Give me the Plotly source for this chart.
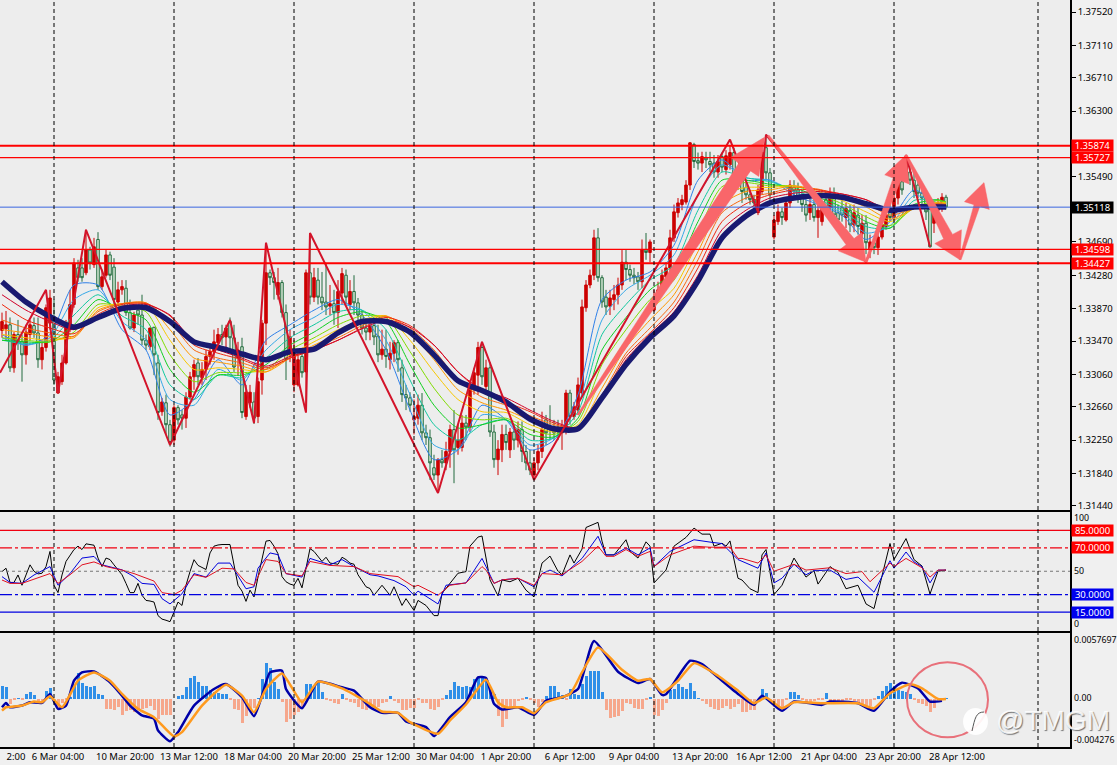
import numpy as np
import plotly.graph_objects as go
from plotly.subplots import make_subplots

# GBP/USD style 4h chart, prices kept in pips (1 pip = 0.0001)
opens = [
    13360, 13362, 13367, 13314, 13355, 13346, 13330, 13355, 13366, 13357,
    13324, 13339, 13369, 13377, 13283, 13297, 13320, 13361, 13392, 13437,
    13437, 13431, 13459, 13441, 13472, 13414, 13428, 13453, 13438, 13395,
    13410, 13412, 13382, 13363, 13385, 13379, 13348, 13340, 13364, 13320,
    13260, 13271, 13244, 13225, 13265, 13256, 13252, 13278, 13303, 13320,
    13302, 13312, 13328, 13334, 13345, 13355, 13352, 13371, 13351, 13326,
    13340, 13254, 13271, 13272, 13254, 13299, 13369, 13431, 13425, 13404,
    13419, 13382, 13330, 13293, 13293, 13328, 13309, 13431, 13401, 13422,
    13401, 13395, 13390, 13393, 13382, 13406, 13428, 13392, 13408, 13394,
    13379, 13363, 13358, 13366, 13353, 13330, 13337, 13324, 13332, 13345,
    13314, 13281, 13277, 13250, 13252, 13268, 13234, 13228, 13191, 13182,
    13201, 13197, 13211, 13238, 13216, 13216, 13246, 13241, 13291, 13305,
    13339, 13291, 13314, 13235, 13201, 13213, 13232, 13213, 13235, 13225,
    13238, 13211, 13197, 13182, 13197, 13211, 13250, 13241, 13240, 13241,
    13234, 13241, 13283, 13254, 13262, 13283, 13388, 13416, 13428, 13474,
    13425, 13401, 13390, 13398, 13404, 13416, 13444, 13435, 13428, 13426,
    13420, 13459, 13456, 13385, 13401, 13410, 13426, 13437, 13474, 13505,
    13515, 13518, 13539, 13589, 13569, 13566, 13573, 13568, 13566, 13555,
    13574, 13558, 13564, 13579, 13552, 13545, 13536, 13527, 13521, 13505,
    13531, 13585, 13554, 13475, 13494, 13506, 13496, 13517, 13536, 13533,
    13524, 13515, 13505, 13515, 13499, 13494, 13521, 13511, 13527, 13505,
    13511, 13499, 13508, 13490, 13502, 13479, 13492, 13459, 13468, 13462,
    13475, 13488, 13505, 13499, 13523, 13543, 13554, 13555, 13545, 13539,
    13529, 13523, 13517, 13492, 13508, 13512, 13524,
]
highs = [
    13382, 13384, 13376, 13358, 13373, 13355, 13367, 13373, 13376, 13376,
    13348, 13392, 13410, 13398, 13309, 13330, 13373, 13410, 13449, 13447,
    13449, 13484, 13463, 13474, 13481, 13435, 13459, 13457, 13449, 13420,
    13422, 13422, 13398, 13383, 13388, 13404, 13355, 13363, 13363, 13330,
    13277, 13281, 13250, 13268, 13268, 13262, 13284, 13309, 13324, 13326,
    13321, 13336, 13342, 13361, 13363, 13367, 13367, 13376, 13367, 13346,
    13351, 13293, 13293, 13284, 13302, 13373, 13468, 13435, 13432, 13437,
    13422, 13392, 13361, 13348, 13336, 13336, 13435, 13480, 13437, 13437,
    13432, 13443, 13416, 13410, 13422, 13437, 13435, 13422, 13428, 13400,
    13385, 13371, 13371, 13376, 13367, 13361, 13361, 13346, 13348, 13348,
    13324, 13293, 13284, 13275, 13281, 13283, 13244, 13238, 13207, 13203,
    13213, 13223, 13244, 13262, 13244, 13256, 13256, 13299, 13314, 13346,
    13346, 13324, 13321, 13244, 13225, 13244, 13244, 13240, 13244, 13248,
    13248, 13219, 13213, 13203, 13219, 13260, 13256, 13268, 13250, 13250,
    13250, 13287, 13287, 13272, 13302, 13398, 13422, 13435, 13484, 13486,
    13428, 13410, 13410, 13416, 13425, 13459, 13459, 13441, 13437, 13432,
    13472, 13480, 13472, 13410, 13420, 13435, 13444, 13484, 13515, 13523,
    13527, 13545, 13592, 13591, 13579, 13580, 13580, 13580, 13576, 13576,
    13579, 13582, 13588, 13585, 13558, 13552, 13542, 13533, 13527, 13539,
    13582, 13601, 13560, 13502, 13515, 13511, 13523, 13545, 13545, 13542,
    13533, 13521, 13523, 13527, 13515, 13517, 13531, 13536, 13536, 13515,
    13521, 13517, 13515, 13515, 13511, 13502, 13502, 13478, 13474, 13484,
    13496, 13511, 13515, 13531, 13548, 13555, 13576, 13564, 13555, 13545,
    13536, 13531, 13523, 13515, 13523, 13529, 13527,
]
lows = [
    13351, 13348, 13309, 13308, 13336, 13297, 13318, 13348, 13351, 13314,
    13312, 13334, 13361, 13293, 13282, 13293, 13318, 13358, 13388, 13420,
    13420, 13428, 13435, 13437, 13410, 13410, 13425, 13422, 13392, 13392,
    13404, 13378, 13361, 13358, 13367, 13342, 13336, 13336, 13305, 13250,
    13255, 13232, 13217, 13219, 13244, 13238, 13240, 13275, 13287, 13293,
    13293, 13299, 13318, 13324, 13336, 13342, 13336, 13334, 13309, 13305,
    13252, 13250, 13265, 13245, 13246, 13281, 13342, 13416, 13398, 13398,
    13376, 13299, 13321, 13284, 13291, 13302, 13259, 13392, 13395, 13392,
    13385, 13379, 13379, 13367, 13363, 13392, 13392, 13385, 13379, 13367,
    13355, 13348, 13348, 13342, 13321, 13324, 13314, 13312, 13321, 13309,
    13272, 13262, 13260, 13232, 13244, 13225, 13219, 13176, 13176, 13160,
    13191, 13188, 13191, 13172, 13207, 13211, 13225, 13235, 13281, 13281,
    13293, 13281, 13229, 13191, 13182, 13198, 13213, 13203, 13213, 13216,
    13198, 13188, 13182, 13176, 13188, 13203, 13219, 13225, 13225, 13225,
    13213, 13232, 13244, 13250, 13256, 13278, 13383, 13412, 13422, 13420,
    13388, 13379, 13379, 13385, 13392, 13410, 13422, 13420, 13417, 13410,
    13412, 13447, 13444, 13383, 13398, 13404, 13422, 13432, 13469, 13499,
    13508, 13515, 13533, 13560, 13558, 13555, 13560, 13555, 13548, 13548,
    13555, 13552, 13558, 13543, 13533, 13517, 13521, 13515, 13511, 13502,
    13527, 13545, 13515, 13472, 13490, 13490, 13494, 13511, 13523, 13517,
    13506, 13494, 13496, 13494, 13474, 13489, 13502, 13506, 13494, 13486,
    13494, 13486, 13481, 13481, 13478, 13474, 13454, 13449, 13454, 13453,
    13472, 13484, 13494, 13494, 13515, 13527, 13548, 13539, 13523, 13523,
    13515, 13496, 13462, 13480, 13502, 13506, 13509,
]
closes = [
    13371, 13367, 13314, 13355, 13345, 13330, 13358, 13367, 13357, 13324,
    13339, 13388, 13400, 13299, 13303, 13320, 13364, 13392, 13443, 13425,
    13425, 13459, 13443, 13463, 13414, 13426, 13453, 13428, 13398, 13410,
    13414, 13382, 13363, 13379, 13379, 13348, 13342, 13363, 13330, 13259,
    13272, 13244, 13222, 13265, 13250, 13252, 13278, 13303, 13318, 13303,
    13312, 13328, 13334, 13346, 13355, 13351, 13363, 13351, 13315, 13336,
    13259, 13284, 13284, 13252, 13297, 13369, 13431, 13425, 13419, 13419,
    13382, 13324, 13352, 13336, 13324, 13308, 13431, 13401, 13425, 13401,
    13394, 13389, 13393, 13382, 13408, 13430, 13401, 13408, 13394, 13379,
    13363, 13358, 13366, 13352, 13330, 13337, 13328, 13332, 13345, 13324,
    13281, 13277, 13268, 13254, 13268, 13234, 13228, 13197, 13182, 13201,
    13197, 13211, 13238, 13213, 13225, 13246, 13241, 13291, 13308, 13339,
    13303, 13314, 13235, 13201, 13214, 13232, 13222, 13235, 13225, 13238,
    13211, 13197, 13188, 13197, 13211, 13238, 13234, 13238, 13234, 13235,
    13240, 13283, 13254, 13266, 13293, 13389, 13416, 13428, 13474, 13425,
    13395, 13389, 13400, 13404, 13416, 13444, 13435, 13428, 13425, 13420,
    13459, 13456, 13469, 13401, 13410, 13428, 13437, 13474, 13506, 13517,
    13521, 13539, 13591, 13568, 13566, 13574, 13570, 13564, 13555, 13568,
    13561, 13575, 13579, 13552, 13545, 13531, 13527, 13521, 13517, 13533,
    13579, 13554, 13527, 13496, 13506, 13499, 13517, 13539, 13531, 13523,
    13515, 13502, 13515, 13499, 13508, 13511, 13511, 13527, 13502, 13496,
    13502, 13510, 13490, 13505, 13488, 13492, 13468, 13469, 13462, 13475,
    13490, 13502, 13499, 13523, 13542, 13533, 13574, 13545, 13531, 13529,
    13523, 13506, 13463, 13505, 13517, 13524, 13512,
]

# moving average ribbon, read every 6 bars
ribbon_bars = list(range(0, 235, 6)) + [236]
ribbon_colors = ["#2f80e8", "#35a8e8", "#12c8a0", "#10d020", "#80dc00",
                 "#f8c800", "#ff9800", "#f86810", "#f02810", "#d00028"]
ma1 = [13355, 13342, 13355, 13416, 13416, 13361, 13336, 13256, 13275, 13324, 13293, 13348, 13367, 13385, 13398, 13379, 13336, 13262, 13201, 13213, 13268, 13250, 13213, 13225, 13281, 13398, 13422, 13432, 13465, 13545, 13570, 13545, 13545, 13527, 13515, 13502, 13472, 13494, 13533, 13515, 13515]
ma2 = [13351, 13342, 13351, 13398, 13410, 13371, 13348, 13275, 13268, 13312, 13299, 13336, 13361, 13376, 13392, 13385, 13348, 13281, 13219, 13213, 13256, 13250, 13219, 13228, 13268, 13373, 13410, 13428, 13453, 13527, 13564, 13548, 13545, 13531, 13517, 13505, 13480, 13489, 13526, 13517, 13516]
ma3 = [13348, 13344, 13348, 13379, 13404, 13378, 13361, 13293, 13275, 13305, 13302, 13326, 13351, 13367, 13383, 13385, 13361, 13299, 13244, 13225, 13244, 13250, 13225, 13228, 13260, 13355, 13392, 13422, 13441, 13508, 13555, 13548, 13543, 13533, 13521, 13508, 13488, 13486, 13520, 13520, 13517]
ma4 = [13348, 13346, 13346, 13367, 13398, 13385, 13373, 13312, 13284, 13305, 13305, 13318, 13342, 13358, 13376, 13383, 13371, 13318, 13268, 13240, 13244, 13250, 13232, 13229, 13252, 13336, 13376, 13410, 13432, 13494, 13545, 13545, 13540, 13536, 13524, 13512, 13494, 13486, 13515, 13521, 13518]
ma5 = [13351, 13348, 13346, 13358, 13392, 13390, 13383, 13330, 13297, 13308, 13308, 13312, 13336, 13351, 13367, 13378, 13376, 13334, 13289, 13256, 13250, 13252, 13238, 13232, 13248, 13318, 13361, 13398, 13422, 13481, 13537, 13542, 13538, 13538, 13528, 13516, 13500, 13489, 13511, 13520, 13518]
ma6 = [13355, 13351, 13348, 13353, 13388, 13393, 13392, 13348, 13312, 13314, 13312, 13309, 13330, 13346, 13361, 13373, 13378, 13348, 13309, 13275, 13260, 13259, 13244, 13235, 13244, 13302, 13348, 13385, 13412, 13469, 13527, 13536, 13536, 13538, 13531, 13520, 13506, 13494, 13510, 13518, 13517]
ma7 = [13361, 13357, 13352, 13351, 13385, 13393, 13394, 13361, 13326, 13321, 13316, 13309, 13326, 13342, 13355, 13369, 13378, 13358, 13324, 13287, 13271, 13262, 13250, 13240, 13241, 13289, 13339, 13373, 13404, 13457, 13515, 13531, 13533, 13538, 13533, 13523, 13512, 13497, 13510, 13517, 13516]
ma8 = [13373, 13363, 13357, 13353, 13383, 13393, 13394, 13371, 13336, 13326, 13320, 13312, 13326, 13339, 13351, 13366, 13377, 13363, 13336, 13299, 13278, 13268, 13255, 13244, 13240, 13281, 13332, 13363, 13395, 13447, 13505, 13523, 13529, 13536, 13534, 13526, 13517, 13502, 13510, 13516, 13515]
ma9 = [13392, 13373, 13363, 13356, 13380, 13392, 13393, 13378, 13342, 13332, 13324, 13314, 13326, 13336, 13348, 13363, 13376, 13366, 13342, 13309, 13284, 13272, 13260, 13246, 13240, 13277, 13328, 13357, 13388, 13437, 13494, 13516, 13527, 13533, 13533, 13528, 13521, 13506, 13510, 13515, 13513]
ma10 = [13404, 13385, 13371, 13361, 13378, 13390, 13392, 13379, 13346, 13336, 13326, 13316, 13328, 13336, 13348, 13362, 13373, 13364, 13342, 13309, 13287, 13277, 13262, 13248, 13240, 13275, 13324, 13355, 13383, 13428, 13484, 13508, 13523, 13529, 13531, 13528, 13521, 13508, 13510, 13513, 13513]
ma_slow = [13420, 13395, 13377, 13364, 13376, 13387, 13388, 13371, 13346, 13339, 13331, 13324, 13334, 13337, 13357, 13371, 13371, 13358, 13330, 13298, 13286, 13272, 13251, 13239, 13239, 13277, 13318, 13351, 13378, 13421, 13474, 13501, 13517, 13523, 13526, 13524, 13516, 13508, 13512, 13512, 13512]
ribbon = [ma1, ma2, ma3, ma4, ma5, ma6, ma7, ma8, ma9, ma10]

# zigzag pivots
zig_bars = [-0.5, 11, 14, 21, 42, 57, 63, 66, 76, 77, 109, 120, 133, 182, 189, 191, 216, 226, 232]
zig_pips = [13308, 13410, 13283, 13484, 13219, 13373, 13246, 13468, 13259, 13480, 13160, 13346, 13176, 13595, 13506, 13601, 13444, 13576, 13463]

levels = [1.35874, 1.35727, 1.34598, 1.34427]
level_widths = [2, 1.2, 1.2, 2]
last_price = 1.35118

price_ticks = [1.37520, 1.37110, 1.36710, 1.36300, 1.35490, 1.34690, 1.34280,
               1.33870, 1.33470, 1.33060, 1.32660, 1.32250, 1.31840, 1.31440]

grid_bars = [13, 43, 73, 103, 133, 163, 193, 223, 259]
date_bars = [3.5, 14, 30.75, 46.75, 62.75, 78.75, 94.75, 110.75, 126, 142, 158, 174.5, 190.5, 206.75, 222.75, 238.75]
date_labels = ["2:00", "6 Mar 04:00", "10 Mar 20:00", "13 Mar 12:00", "18 Mar 04:00",
               "20 Mar 20:00", "25 Mar 12:00", "30 Mar 04:00", "1 Apr 20:00", "6 Apr 12:00",
               "9 Apr 04:00", "13 Apr 20:00", "16 Apr 12:00", "21 Apr 04:00", "23 Apr 20:00", "28 Apr 12:00"]

# oscillator lines
k_bars = [0, 1, 2, 3, 4, 5, 6, 7, 8, 9, 10, 11, 12, 13, 14, 15, 16, 18, 19, 20, 21, 22, 23, 24, 25, 26, 27, 28, 29, 30, 31, 32, 33, 34, 35, 36, 37, 38, 39, 40, 41, 42, 43, 44, 45, 46, 47, 48, 49, 50, 51, 52, 53, 54, 55, 57, 58, 59, 60, 61, 62, 63, 64, 65, 66, 67, 68, 69, 70, 71, 72, 73, 74, 75, 76, 77, 78, 79, 80, 81, 82, 83, 84, 85, 86, 87, 88, 89, 90, 91, 92,
          93, 95, 97, 98, 100, 101, 103, 104, 106, 108, 109, 110, 112, 114, 116, 117, 119, 120, 122, 124, 125, 127, 129, 131, 133, 135, 137, 139, 140, 142, 143, 145, 146, 149, 150, 151, 153, 156, 157, 159, 161, 162, 163, 166, 168, 171, 173, 175, 177, 178, 180, 181, 182, 183, 184,
          185, 187, 189, 190, 191, 192, 193, 195, 198, 201, 203, 204, 207, 209, 211, 214, 216, 218, 220, 222, 223, 226, 228, 230, 232, 234, 236]
k_line = [49.7, 52.6, 40.4, 40.4, 46.8, 38, 46.8, 55.5, 50, 47.7, 48.3, 54, 67, 38, 31.7, 46.8, 58.4, 68.6, 71.5, 68.6, 73.5, 73, 72.3, 61.3, 54, 61.3, 60, 55.5, 51.2, 47, 39.6, 31.7, 31.7, 39.6, 29.4, 25, 24.5, 23.6, 12, 9, 8, 6.8, 15, 23.6, 20.7, 38, 49.7, 59.9, 55, 53, 51.5, 65.7, 71.5, 72.5, 72.9, 72.9, 55.5, 38, 33, 24.2, 33.8, 28, 45, 60, 75.8, 76.4, 71.5, 65, 45.4, 41, 39, 38, 43.9, 35.8, 52, 69.4, 67, 63, 58.4, 62, 57, 56.5, 56, 62, 60, 57, 56, 47, 42, 36.7, 35.2,
          29.4, 38, 29.4, 36.7, 20.7, 26.5, 16.4, 25, 20.7, 12, 12, 31, 39.6, 48.3, 49.7, 71.5, 79.3, 80.2, 42.6, 28.9, 42.6, 41, 44, 33.8, 28, 57, 63, 50, 47, 64, 57, 69, 87.5, 91.9, 75.8, 64, 64, 77, 67, 61.3, 75.2, 71.5, 40, 51, 71.5, 79, 87, 81.8, 81.8, 71.5, 74, 71.5, 76, 61.3, 44,
          42.5, 35, 31.7, 64, 68.6, 50, 30, 38, 61.3, 45, 50.5, 39, 54, 49, 35, 38, 22, 18, 47, 73.8, 60, 78, 60, 54.5, 30.5, 50, 51]
d_bars = [0, 2, 5, 8, 12, 14, 17, 20, 23, 25, 30, 33, 35, 38, 40, 42, 45, 48, 51, 54, 57, 61, 63, 64, 67, 69, 71, 75, 77, 82, 85, 88, 92,
          94, 98, 101, 103, 104, 109, 111, 116, 120, 121, 123, 125, 129, 133, 135, 137, 140, 145, 149, 151, 153, 156, 159, 162, 163, 167, 173, 177, 180, 184,
          189, 191, 193, 195, 198, 201, 203, 207, 211, 214, 218, 222, 223, 226, 228, 230, 232, 234, 236]
d_line = [45.4, 40.4, 39.6, 46.8, 54, 38, 48, 61.3, 62.7, 55.5, 51.2, 45.4, 39.6, 38.7, 26.5, 22, 30.7, 48, 45, 57, 57, 35, 36.7, 52.6, 65.7, 64.2, 48, 45, 61, 55.5, 60, 54, 47,
          46, 42, 36.7, 29.4, 33, 22, 38, 40, 61, 54, 39.6, 42.6, 44, 36.7, 48, 51, 46, 61, 80, 64, 64, 70, 64, 70, 54, 67, 77, 75, 73.7, 60,
          52.6, 65.7, 40, 44, 56, 47, 50.5, 51, 43, 45, 32, 59, 52.6, 66.5, 58, 54, 40, 51, 51]
s_bars = [0, 2, 5, 9, 12, 14, 17, 20, 23, 26, 30, 33, 38, 40, 43, 45, 48, 51, 55, 58, 61, 63, 66, 69, 71, 75, 77, 82, 88, 92,
          95, 99, 103, 104, 109, 112, 116, 120, 121, 123, 125, 129, 133, 135, 140, 145, 149, 151, 153, 156, 159, 162, 163, 167, 173, 177, 182, 184,
          185, 189, 191, 193, 198, 201, 207, 211, 215, 217, 222, 223, 226, 230, 232, 234, 236]
s_line = [42.5, 39.6, 39.6, 44.5, 48, 39.6, 47, 55.5, 58, 54, 51, 48, 41.6, 31.7, 30, 33.8, 47, 44.8, 52.6, 52, 40.4, 38, 60, 58.4, 48, 46, 58.4, 55, 54, 48,
          47, 45.4, 36.7, 38, 29.4, 38, 40, 54, 51, 39.6, 42.6, 44, 38, 48, 47, 58.4, 71.5, 62.8, 62.8, 68.6, 62.8, 67, 54, 64, 71.5, 70.6, 70.6, 61,
          61, 57, 64, 50, 56, 51, 53, 48, 49.7, 41, 57, 54, 61, 53, 45, 51, 51]
rsi_levels = [85, 70, 50, 30, 15]
rsi_colors = ["#f00010", "#f00010", "#777777", "#0000e0", "#0000e0"]
rsi_dashes = ["solid", "12px,3px,3px,3px", "3px,3px", "12px,3px,3px,3px", "solid"]

# macd, in units of 0.0001
macd_bars = [0, 1, 2, 5, 7, 10, 12, 14, 16, 18, 20, 23, 27, 30, 32, 35, 38, 39, 42, 44, 48, 53, 56, 60, 63, 65, 67, 70, 71, 75, 79, 85, 88, 92,
             95, 99, 101, 106, 108, 112, 116, 119, 121, 123, 125, 129, 133, 136, 140, 144, 148, 154, 159, 162, 165, 166, 172, 175, 179, 184,
             188, 190, 195, 198, 205, 207, 214, 218, 222, 225, 229, 232, 235]
macd_line = [-7.9, -4.1, -7.9, -6.4, -3.5, -4.1, 3.8, -9.3, -6.4, 15.4, 22.7, 23.6, 14, 2.3, -6.4, -15.1, -18, -28.2, -37.8, -29.7, -6.4, 8.1, 12.5, 0.9, -15.7, 2.3, 22.7, 24.2, 8.1, -8.7, 14.6, 9.6, 6.7, -7.9,
             -12.8, -12.8, -20.4, -25.3, -33.2, -16.6, -3.5, 18.3, 17.8, -4.9, -9.9, -7.9, -14.6, -2, 0.9, 8.1, 50.3, 23.3, 13.4, 16.9, 2.9, 3.5, 32.9, 30, 18.3, 3.8,
             -5.8, 2.3, -11, -2.9, -5.8, -2.9, -4.4, -11, 5.8, 13.7, 8.7, -2.9, -2.3]
signal_bars = [0, 1, 3, 5, 8, 10, 12, 15, 19, 23, 27, 30, 34, 38, 43, 45, 50, 56, 60, 63, 66, 70, 75, 79, 85, 92,
               95, 99, 102, 109, 112, 116, 121, 124, 126, 130, 133, 136, 142, 145, 149, 155, 159, 162, 165, 169, 173, 179, 184,
               188, 191, 195, 198, 205, 214, 218, 222, 227, 230, 234, 236]
signal_line = [-10.8, -7.9, -7.3, -6.4, -2.9, -3.5, 1.7, -7.9, 15.4, 22.7, 15.4, 3.8, -9.3, -16.6, -33.5, -29.7, -6.4, 11.9, 2.3, -12.2, 8.1, 21.8, -3.5, 14.6, 8.7, -4.9,
               -11.6, -12.8, -21, -31.1, -19.5, -5.5, 16.3, -3.5, -7.9, -7.9, -13.1, -3.5, 3.8, 22.7, 44.5, 25, 15.4, 16.9, 5.2, 15.4, 30.8, 19.8, 6.7,
               -4.4, 0.6, -8.7, -3.5, -4.4, -4.4, -8.7, 4.4, 12.2, 8.7, -0.6, -0.6]
macd_hist = [
    11, 10, -5, -1, 0.3, -1.5, 4, 5.5, 3, -2,
    -3, 7, 9.5, -4, -8, -4, -1, 1.5, 12, 23,
    14, 11, 10, 11, 4, 3, -9, -9, -10, -7,
    -14, -11, -10, -12, -10, -9, -8, -6, -10, -18,
    -14, -14, -14, 0, 2, 3.5, 10, 18, 20, 15,
    11, 11, 8, 6, 5, 4, 4, -1, -9, -10,
    -21, -15, -11, -8, 0.5, 17, 31, 27, 15, 8.5,
    -3, -20, -18, -14, -12, -7, 13, 13, 10, 14,
    6, -1, -2, -4, -5, 4, -1, -3, -4, -7,
    -9, -10, -7, -8, -7, -4, -3, 2.5, -2, -4,
    -10, -10, -8, -8, -1, -4, -4, -9, -10, -7,
    -1, 3, 8, 15, 11, 10, 11, 10, 17, 18,
    19, 17, 9, 4, -15, -25, -18, -9, -6, -2,
    -1, 1, -1, -4, -7, -3, 2, 11, 11, 6,
    3, -1, 9, 4, 3, 13, 20, 24, 24, 24,
    6, -10, -17, -16, -15, -11, -4, -5, -8, -9,
    -9, -1, 1, -14, -15, -10, -4, 8, 9, 13,
    10, 9, 14, 7, 0.5, -2, -5, -7, -9, -10,
    -8, -6, -9, -7, -5, -12, -12, -10, -10, -3,
    9, 5, -3, -7, -8, -8, -1, 6, 6, 3,
    -1, -3, -2.5, -2, -1, -1, 5, -3, -3, -2,
    -2, -1, -1, -2, -3, -5, -6, -6, -1, 2,
    7, 11, 14, 11, 8, 7, 6, 4, -1, -4,
    -5, -6, -12, -8, -1, 0, 0.5,
]

# hand drawn arrows: tail bar, tail pips, head bar, head pips, head length, head half width, neck half width (px)
arrows = [(144, 13256, 190.7, 13598, 36, 17, 7), (191.5, 13600, 216, 13444, 26, 15, 5),
          (216, 13444, 226, 13576, 26, 13, 4), (226, 13576, 239.5, 13447, 26, 15, 5),
          (239.5, 13447, 245.5, 13542, 24, 13, 3)]

W, H = 1117, 765
PX_PER_BAR = 4.0
PX_PER_PIP = 1 / 1.231


def arrow_outline(tx, ty, hx, hy, head_len, head_half, neck_half):
    # tapered arrow, worked out in pixels then put back in bars and pips
    dx, dy = (hx - tx) * PX_PER_BAR, (hy - ty) * PX_PER_PIP
    length = np.hypot(dx, dy)
    ux, uy = dx / length, dy / length
    nx, ny = -uy, ux
    along = [0, length - head_len, length - head_len, length, length - head_len, length - head_len, 0]
    side = [1, neck_half, head_half, 0, -head_half, -neck_half, -1]
    px = [a * ux + s * nx for a, s in zip(along, side)]
    py = [a * uy + s * ny for a, s in zip(along, side)]
    return [tx + v / PX_PER_BAR for v in px], [(ty + v / PX_PER_PIP) / 1e4 for v in py]


fig = make_subplots(rows=3, cols=1, shared_xaxes=True, vertical_spacing=0.002)

bars = np.arange(len(closes))
fig.add_trace(go.Candlestick(
    x=bars, open=np.array(opens) / 1e4, high=np.array(highs) / 1e4,
    low=np.array(lows) / 1e4, close=np.array(closes) / 1e4,
    increasing=dict(line=dict(color="#cc0000", width=1), fillcolor="#cc0000"),
    decreasing=dict(line=dict(color="#226b3e", width=1), fillcolor="#d8ead8"),
    whiskerwidth=0, showlegend=False), row=1, col=1)

for values, color in zip(ribbon, ribbon_colors):
    fig.add_trace(go.Scatter(x=ribbon_bars, y=np.array(values) / 1e4, mode="lines",
                             line=dict(color=color, width=1, shape="spline", smoothing=0.7),
                             showlegend=False), row=1, col=1)
fig.add_trace(go.Scatter(x=ribbon_bars, y=np.array(ma_slow) / 1e4, mode="lines",
                         line=dict(color="#191970", width=5.5, shape="spline", smoothing=0.7),
                         showlegend=False), row=1, col=1)
fig.add_trace(go.Scatter(x=zig_bars, y=np.array(zig_pips) / 1e4, mode="lines",
                         line=dict(color="#d3142a", width=2), showlegend=False), row=1, col=1)
for a in arrows:
    ax_, ay_ = arrow_outline(*a)
    fig.add_trace(go.Scatter(x=ax_, y=ay_, mode="lines", fill="toself", fillcolor="#f9666a",
                             line=dict(color="#f9666a", width=0.5), showlegend=False), row=1, col=1)

fig.add_trace(go.Scatter(x=k_bars, y=k_line, mode="lines", line=dict(color="black", width=1), showlegend=False), row=2, col=1)
fig.add_trace(go.Scatter(x=d_bars, y=d_line, mode="lines", line=dict(color="#0000dd", width=1), showlegend=False), row=2, col=1)
fig.add_trace(go.Scatter(x=s_bars, y=s_line, mode="lines", line=dict(color="#e01020", width=1), showlegend=False), row=2, col=1)

hist_colors = ["#2f8fe8" if v > 0 else "#f6a78c" for v in macd_hist]
fig.add_trace(go.Bar(x=np.arange(len(macd_hist)), y=np.array(macd_hist) / 1e4, width=0.75,
                     marker=dict(color=hist_colors, line_width=0), showlegend=False), row=3, col=1)
fig.add_trace(go.Scatter(x=macd_bars, y=np.array(macd_line) / 1e4, mode="lines",
                         line=dict(color="#0000a8", width=2.5, shape="spline", smoothing=0.5), showlegend=False), row=3, col=1)
fig.add_trace(go.Scatter(x=signal_bars, y=np.array(signal_line) / 1e4, mode="lines",
                         line=dict(color="#ff9a1e", width=2.5, shape="spline", smoothing=0.5), showlegend=False), row=3, col=1)

# horizontal levels
for lvl, lw in zip(levels, level_widths):
    fig.add_hline(y=lvl, line=dict(color="#ff0000", width=lw), row=1, col=1)
fig.add_hline(y=last_price, line=dict(color="#3a66e0", width=1), row=1, col=1)
for lvl, col, dash in zip(rsi_levels, rsi_colors, rsi_dashes):
    fig.add_hline(y=lvl, line=dict(color=col, width=1.2, dash=dash), row=2, col=1)
for g in grid_bars:
    fig.add_vline(x=g, line=dict(color="black", width=1, dash="4px,3px"))

fnt = dict(family="Noto Sans, DejaVu Sans", size=9.5, color="black")
small_fnt = dict(family="Noto Sans, DejaVu Sans", size=8.8, color="black")
right_x = 1071 / W


def badge(text, y, yref, bg):
    fig.add_annotation(text=text, xref="paper", x=right_x, xanchor="left", yref=yref, y=y,
                       showarrow=False, bgcolor=bg, width=41, height=11, borderpad=0,
                       font=dict(family=fnt["family"], size=9.5, color="white"))


for lvl in levels:
    badge(f"{lvl:.5f}", lvl, "y", "#ff0000")
badge(f"{last_price:.5f}", last_price, "y", "black")
badge("85.0000", 85, "y2", "#ff0000")
badge("70.0000", 70, "y2", "#ff0000")
badge("30.0000", 30, "y2", "#0000ee")
badge("15.0000", 15, "y2", "#0000ee")


def side_text(text, y, yref, shift=0):
    fig.add_annotation(text=text, xref="paper", x=1072 / W, xanchor="left", yref=yref, y=y,
                       yshift=shift, showarrow=False, font=small_fnt)


side_text("100", 100, "y2", -5)
side_text("50", 50, "y2")
side_text("0", 0, "y2", 6)
side_text("0.0057697", 0.0057697, "y3", -7)
side_text("0.00", 0, "y3")
side_text("-0.004276", -0.004276, "y3", 7)

# circle round the last macd bars
fig.add_shape(type="circle", xref="x3", yref="y3", x0=226.25, x1=246.5, y0=-0.00341, y1=0.00315,
              line=dict(color="#e8707a", width=2))

# watermark
fig.add_shape(type="circle", xref="paper", yref="paper", x0=963 / W, x1=988 / W,
              y0=1 - 735 / H, y1=1 - 708 / H, fillcolor="rgba(255,255,255,0.92)", line_width=0)
fig.add_shape(type="path", xref="paper", yref="paper", line=dict(color="#555555", width=1),
              path=f"M {972/W},{1-731/H} C {975/W},{1-718/H} {976/W},{1-712/H} {984/W},{1-712/H}")
fig.add_annotation(text="@TMGM", xref="paper", yref="paper", x=994 / W, y=1 - 720 / H, xanchor="left",
                   yanchor="middle", showarrow=False,
                   font=dict(family="Liberation Sans", size=28, color="rgba(255,255,255,0.9)",
                             shadow="1px 1px 1px #666666"))

axis_common = dict(showline=True, mirror=True, linecolor="black", linewidth=1.5, showgrid=False,
                   zeroline=False, automargin=False)
fig.update_xaxes(range=[-0.5, 267], domain=[0, 1070 / W], rangeslider_visible=False, showticklabels=False,
                 ticks="", **axis_common)
fig.update_xaxes(row=3, col=1, showticklabels=True, tickmode="array", tickvals=date_bars, ticktext=date_labels,
                 tickangle=0, tickfont=fnt)
fig.update_yaxes(side="right", showticklabels=False, ticks="", **axis_common)
fig.update_yaxes(row=1, col=1, range=[1.31390, 1.37668], domain=[1 - 510 / H, 1], showticklabels=True,
                 tickmode="array", tickvals=price_ticks, ticktext=[f"{p:.5f}" for p in price_ticks],
                 ticks="outside", ticklen=4, tickcolor="black", tickfont=fnt)
fig.update_yaxes(row=2, col=1, range=[-1.2, 101.2], domain=[1 - 631 / H, 1 - 511.5 / H])
fig.update_yaxes(row=3, col=1, range=[-0.004276, 0.0057697], domain=[1 - 747 / H, 1 - 632.5 / H])

fig.update_layout(width=W, height=H, margin=dict(l=0, r=0, t=0, b=0), paper_bgcolor="#f0f0f0",
                  plot_bgcolor="#ededed", showlegend=False, bargap=0, boxgap=0.1, hovermode=False)

fig.write_html("out.html", config={"displayModeBar": False},
               post_script="document.body.style.margin='0';document.body.style.overflow='hidden';")
